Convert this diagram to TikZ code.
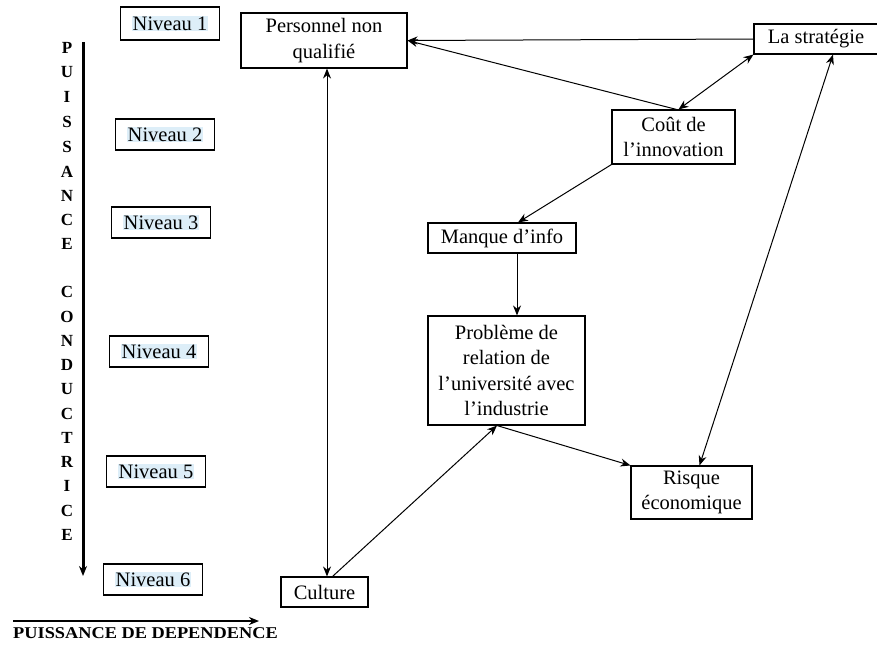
\documentclass[tikz,border=0pt]{standalone}
\usepackage{fontspec}
\setmainfont{Liberation Serif}
\usetikzlibrary{arrows.meta}
\definecolor{hlblue}{HTML}{DDEEF8}
\newcommand\nivhl[1]{{\setlength\fboxsep{1pt}\colorbox{hlblue}{#1}}}
\begin{document}
\begin{tikzpicture}[x=1pt,y=-1pt,
  box/.style={draw, line width=1.1pt, inner sep=0pt, align=center, font=\fontsize{20.5}{25.5}\selectfont},
  lvl/.style={box, minimum width=99pt, minimum height=31pt},
  conn/.style={line width=1pt, -{Stealth[length=10pt,width=8pt]}},
  biconn/.style={line width=1pt, {Stealth[length=10pt,width=8pt]}-{Stealth[length=10pt,width=8pt]}},
  axis/.style={line width=3pt, -{Stealth[length=10pt,width=8pt]}},
  letter/.style={font=\fontsize{17}{17}\selectfont\bfseries, inner sep=0pt}
]
\useasboundingbox (0,0) rectangle (877,645);

% levels
\node[lvl, minimum height=33pt] (n1) at (170,23.5) {\nivhl{Niveau 1}};
\node[lvl] (n2) at (165,134.5) {\nivhl{Niveau 2}};
\node[lvl] (n3) at (161,222.5) {\nivhl{Niveau 3}};
\node[lvl] (n4) at (159,351.5) {\nivhl{Niveau 4}};
\node[lvl] (n5) at (156,471.5) {\nivhl{Niveau 5}};
\node[lvl] (n6) at (153,579.5) {\nivhl{Niveau 6}};

% main boxes
\node[box, minimum width=166pt, minimum height=55pt] (pers) at (324,40.5) {Personnel non\\qualifié};
\node[box, minimum width=124pt, minimum height=30pt] (strat) at (816,39) {La stratégie};
\node[box, minimum width=123pt, minimum height=54pt] (cout) at (673.5,137) {Coût de\\l’innovation};
\node[box, minimum width=148pt, minimum height=30pt] (manq) at (502,238) {Manque d’info};
\node[box, minimum width=157pt, minimum height=109pt] (prob) at (506.5,370.5) {Problème de\\relation de\\l’université avec\\l’industrie};
\node[box, minimum width=121pt, minimum height=53pt] (risq) at (691.5,492.5) {Risque\\économique};
\node[box, minimum width=87pt, minimum height=30pt] (cult) at (324.5,592) {Culture};

% connectors
\draw[conn] (strat.west) -- (pers.east);
\draw[conn] ([xshift=3pt]cout.north) -- (pers.east);
\draw[biconn] ([xshift=5pt]cout.north) -- (strat.south west);
\draw[conn] (cout.south west) -- ([xshift=16pt]manq.north);
\draw[conn] ([xshift=15pt]manq.south) -- ([xshift=15pt]manq.south |- prob.north);
\draw[biconn] ([xshift=2.5pt]cult.north) -- ([xshift=2.5pt]cult.north |- pers.south);
\draw[conn] ([xshift=8pt]cult.north) -- ([xshift=-9.5pt]prob.south);
\draw[conn] ([xshift=-9.5pt]prob.south) -- (risq.north west);
\draw[biconn] ([xshift=8pt]risq.north) -- ([xshift=17pt]strat.south);

% vertical axis
\coordinate (va) at (83,42);
\coordinate (vb) at (83,576);
\draw[axis] (va) -- (vb);
\foreach \l/\yy in {P/48,U/72,I/97,S/122,S/147,A/172,N/196,C/220,E/244,C/292,O/317,N/341,D/365,U/389,C/414,T/438,R/462,I/486,C/511,E/535}
  \node[letter] at (67,\yy) {\l};

% horizontal axis
\coordinate (ha) at (13,621);
\coordinate (hb) at (259,621);
\draw[axis, line width=2.4pt] (ha) -- (hb);
\node[font=\fontsize{16.5}{16.5}\selectfont\bfseries, inner sep=0pt, anchor=west, xscale=1.11] (hlab) at (13,633) {PUISSANCE DE DEPENDENCE};
\end{tikzpicture}
\end{document}
